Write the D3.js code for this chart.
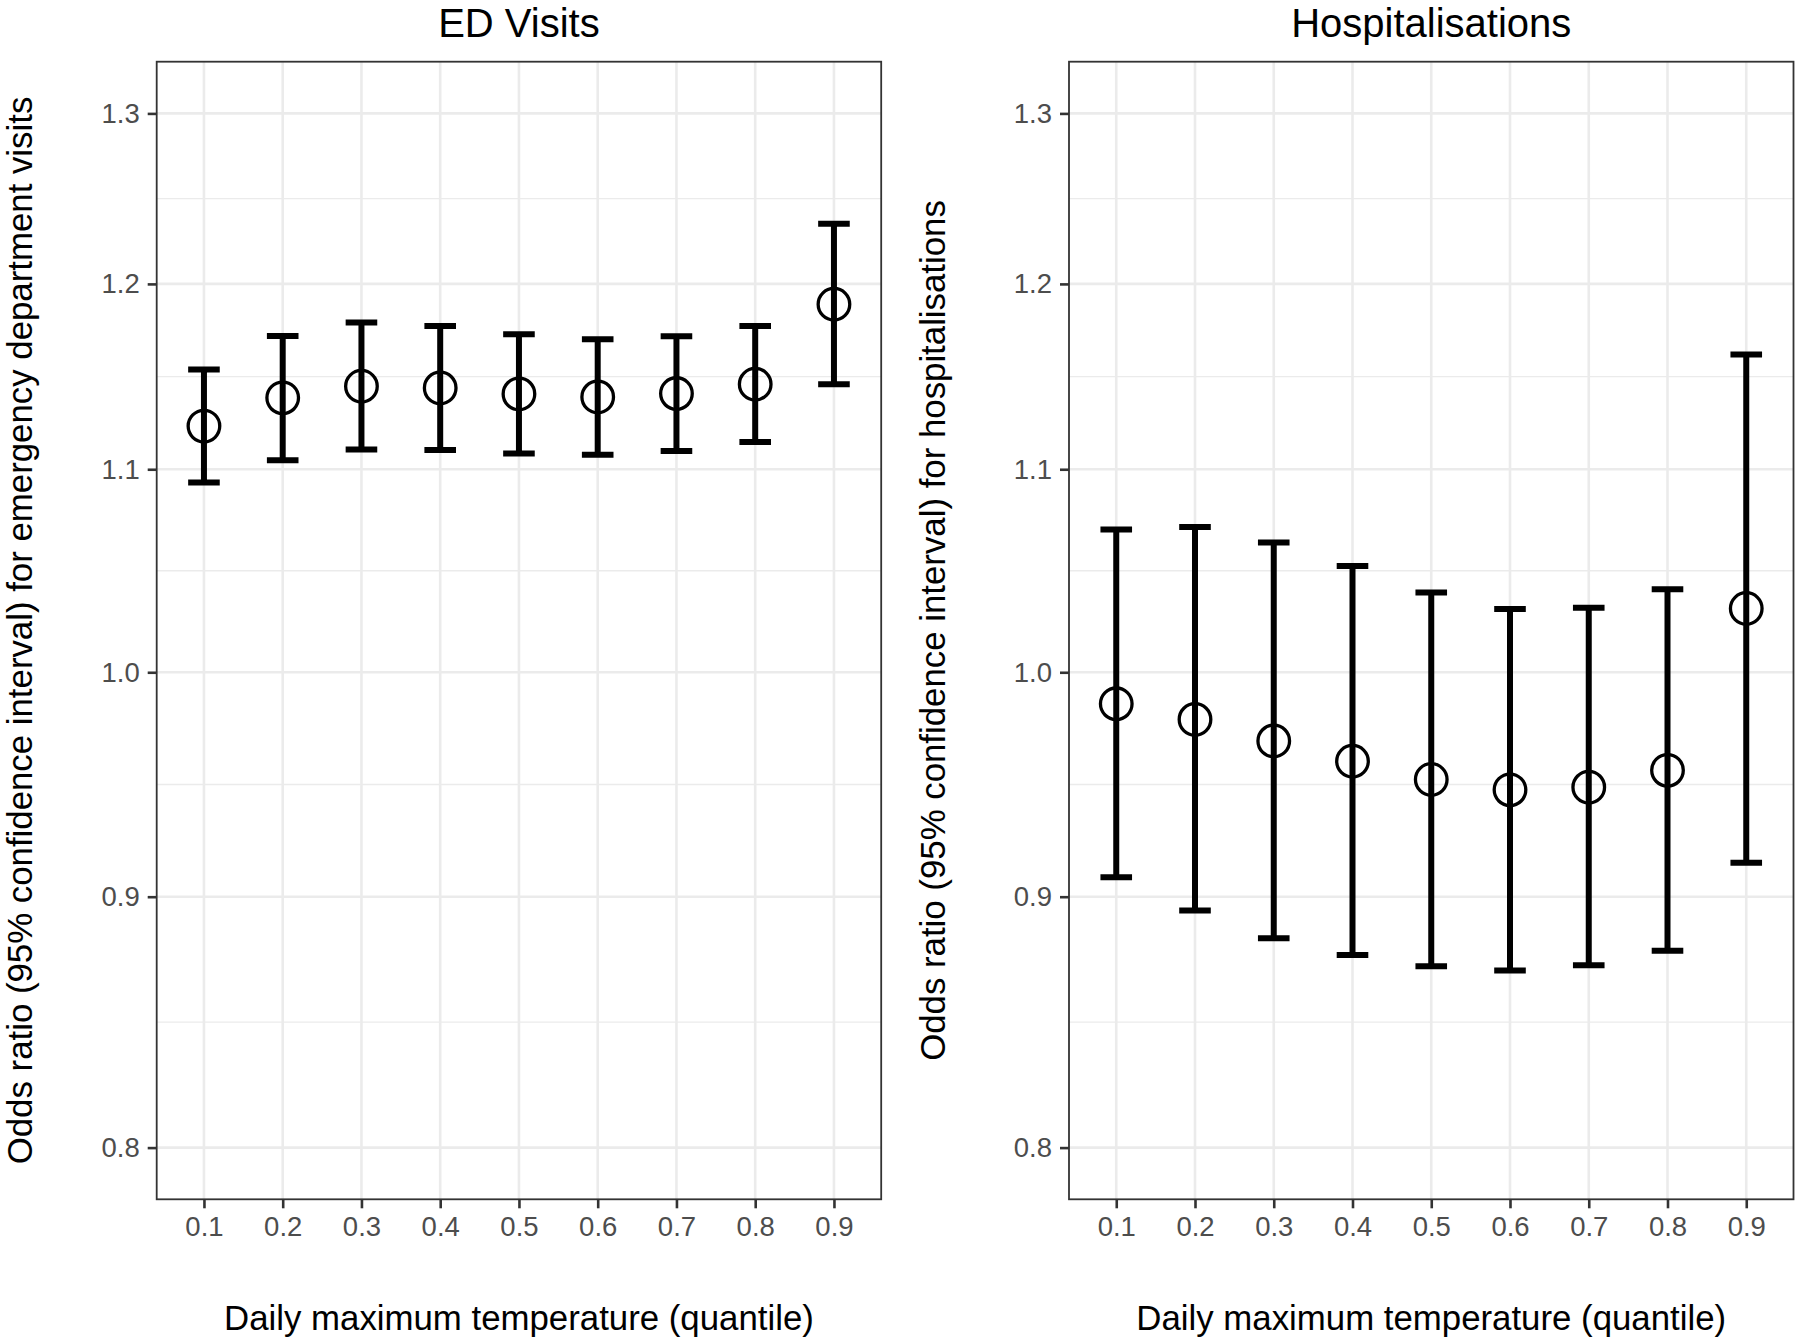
<!DOCTYPE html>
<html>
<head>
<meta charset="utf-8">
<script src="https://cdn.jsdelivr.net/npm/d3@7"></script>
<style>
  html, body { margin: 0; padding: 0; background: #fff; }
  text { font-family: "Liberation Sans", Arial, Helvetica, sans-serif; }
</style>
</head>
<body>
<svg id="chart" width="1800" height="1343"></svg>
<script>
// ---- Data ----
const quantiles = ["0.1", "0.2", "0.3", "0.4", "0.5", "0.6", "0.7", "0.8", "0.9"];
const yTicks = [0.8, 0.9, 1.0, 1.1, 1.2, 1.3];

const edOR    = [1.1225, 1.1375, 1.1437, 1.1428, 1.1396, 1.1380, 1.1398, 1.1448, 1.1886];
const edLower = [1.0932, 1.1047, 1.1103, 1.1100, 1.1082, 1.1075, 1.1095, 1.1141, 1.1448];
const edUpper = [1.1527, 1.1710, 1.1784, 1.1765, 1.1720, 1.1692, 1.1709, 1.1765, 1.2344];

const hospOR    = [0.9853, 0.9781, 0.9683, 0.9591, 0.9509, 0.9463, 0.9475, 0.9550, 1.0304];
const hospLower = [0.9083, 0.8942, 0.8826, 0.8757, 0.8711, 0.8694, 0.8715, 0.8775, 0.9145];
const hospUpper = [1.0693, 1.0706, 1.0628, 1.0511, 1.0382, 1.0302, 1.0307, 1.0398, 1.1609];

const panelTitles = ["ED Visits", "Hospitalisations"];
const yTitles = [
  "Odds ratio (95% confidence interval) for emergency department visits",
  "Odds ratio (95% confidence interval) for hospitalisations"
];
const xTitle = "Daily maximum temperature (quantile)";

// ---- Layout ----
const svg = d3.select("#chart");
const panelTop = 61.7, panelBottom = 1199.3, panelW = 724.5;
const panelLefts = [156.7, 1069];

const panels = [
  { or: edOR, lo: edLower, hi: edUpper },
  { or: hospOR, lo: hospLower, hi: hospUpper }
];

// log scale with 5% expansion in log space (ggplot style)
const lmin = Math.log(0.8), lmax = Math.log(1.3), ext = (lmax - lmin) * 0.05;
const yDomain = [Math.exp(lmin - ext), Math.exp(lmax + ext)];

panels.forEach((p, pi) => {
  const left = panelLefts[pi];
  const g = svg.append("g");

  const x = d3.scalePoint().domain(quantiles).range([left, left + panelW]).padding(0.6);
  const y = d3.scaleLog().domain(yDomain).range([panelBottom, panelTop]);

  // minor gridlines (midpoints in log space)
  const minor = d3.pairs(yTicks).map(([a, b]) => Math.sqrt(a * b));
  g.selectAll("line.minor").data(minor).enter().append("line")
    .attr("x1", left).attr("x2", left + panelW)
    .attr("y1", d => y(d)).attr("y2", d => y(d))
    .attr("stroke", "#ebebeb").attr("stroke-width", 1.4);

  // major gridlines
  g.selectAll("line.majorY").data(yTicks).enter().append("line")
    .attr("x1", left).attr("x2", left + panelW)
    .attr("y1", d => y(d)).attr("y2", d => y(d))
    .attr("stroke", "#ebebeb").attr("stroke-width", 2.6);
  g.selectAll("line.majorX").data(quantiles).enter().append("line")
    .attr("x1", d => x(d)).attr("x2", d => x(d))
    .attr("y1", panelTop).attr("y2", panelBottom)
    .attr("stroke", "#ebebeb").attr("stroke-width", 2.6);

  // error bars
  const half = 15.8;
  g.selectAll("path.eb").data(quantiles).enter().append("path")
    .attr("d", (d, i) => {
      const cx = x(d), yl = y(p.lo[i]), yh = y(p.hi[i]);
      return `M${cx - half},${yh}H${cx + half}M${cx},${yh}V${yl}M${cx - half},${yl}H${cx + half}`;
    })
    .attr("fill", "none").attr("stroke", "#000").attr("stroke-width", 6);

  // points
  g.selectAll("circle.pt").data(quantiles).enter().append("circle")
    .attr("cx", d => x(d)).attr("cy", (d, i) => y(p.or[i]))
    .attr("r", 15.8)
    .attr("fill", "none").attr("stroke", "#000").attr("stroke-width", 3.3);

  // panel border
  g.append("rect")
    .attr("x", left).attr("y", panelTop)
    .attr("width", panelW).attr("height", panelBottom - panelTop)
    .attr("fill", "none").attr("stroke", "#333333").attr("stroke-width", 1.8);

  // axes
  const yAxis = g.append("g").attr("transform", `translate(${left},0)`)
    .call(d3.axisLeft(y).tickValues(yTicks).tickFormat(d3.format(".1f")).tickSize(9).tickPadding(8));
  const xAxis = g.append("g").attr("transform", `translate(0,${panelBottom})`)
    .call(d3.axisBottom(x).tickSize(9).tickPadding(8));
  [yAxis, xAxis].forEach(ax => {
    ax.select(".domain").remove();
    ax.selectAll(".tick line").attr("stroke", "#333333").attr("stroke-width", 2.6);
    ax.selectAll(".tick text").attr("fill", "#4d4d4d")
      .style("font-size", "27.5px")
      .style("font-family", '"Liberation Sans", Arial, sans-serif');
  });

  // titles
  const cxPanel = left + panelW / 2;
  svg.append("text").attr("x", cxPanel).attr("y", 37)
    .attr("text-anchor", "middle").attr("fill", "#000")
    .style("font-size", "40px").text(panelTitles[pi]);

  svg.append("text").attr("x", cxPanel).attr("y", 1330)
    .attr("text-anchor", "middle").attr("fill", "#000")
    .style("font-size", "34.8px").text(xTitle);

  svg.append("text")
    .attr("transform", `translate(${left - 124.5},${(panelTop + panelBottom) / 2}) rotate(-90)`)
    .attr("text-anchor", "middle").attr("fill", "#000")
    .style("font-size", "34.8px").text(yTitles[pi]);
});
</script>
</body>
</html>
